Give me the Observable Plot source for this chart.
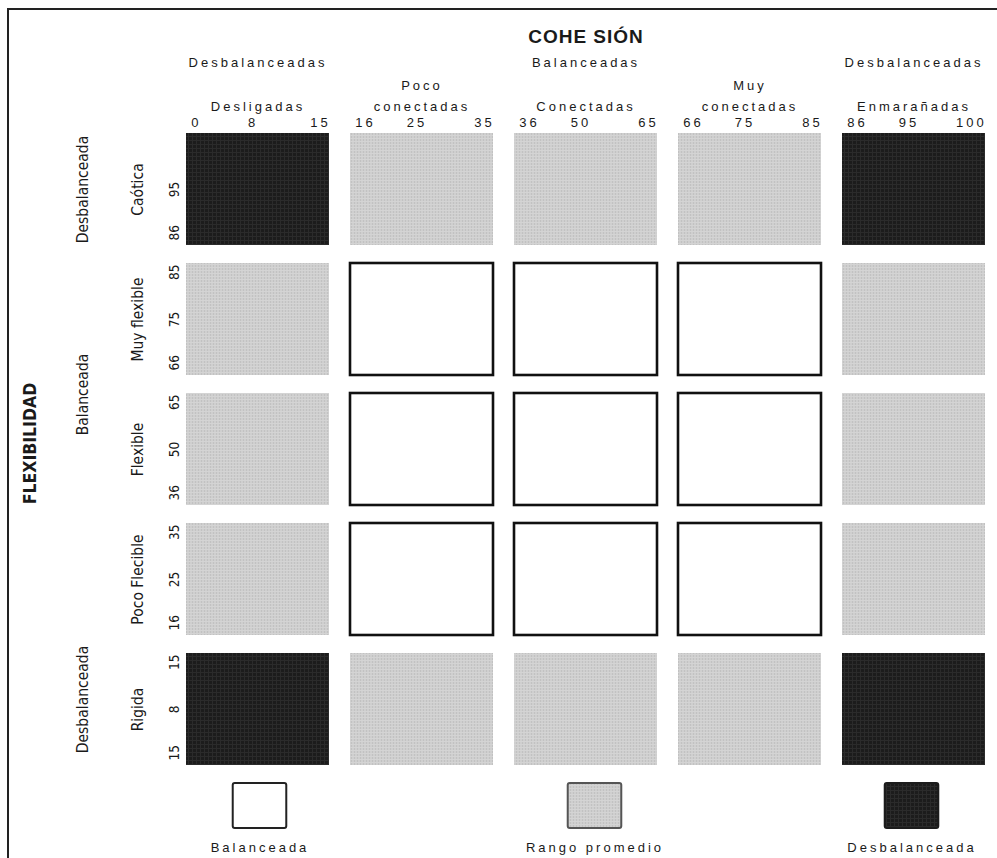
<!DOCTYPE html>
<html><head><meta charset="utf-8">
<script src="https://cdn.jsdelivr.net/npm/d3@7"></script>
<script src="https://cdn.jsdelivr.net/npm/@observablehq/plot@0.6"></script>
<style>
html,body{margin:0;padding:0;background:#fff;}
#wrap{position:relative;width:997px;height:858px;overflow:hidden;background:#fff;}
#wrap svg{display:block;background:transparent;}
#frame{position:absolute;left:7px;top:8px;width:1000px;height:900px;border-top:2px solid #222;border-left:2px solid #222;pointer-events:none;}
g[font-family^="Liberation Sans,"]{letter-spacing:3px;}
g[font-family^="Arial Bold,"]{letter-spacing:1px;}
</style></head>
<body><div id="wrap"><div id="frame"></div></div>
<script>
// ---- data ----
const cohesionLevels = ["Desligadas", "Poco conectadas", "Conectadas", "Muy conectadas", "Enmarañadas"];
const cohesionGroups = [["Desligadas", "Desbalanceadas"], ["Conectadas", "Balanceadas"], ["Enmarañadas", "Desbalanceadas"]];
const cohesionTicks = [["0", "8", "15"], ["16", "25", "35"], ["36", "50", "65"], ["66", "75", "85"], ["86", "95", "100"]];
const flexibilityLevels = ["Caótica", "Muy flexible", "Flexible", "Poco Flecible", "Rigida"];
const flexibilityGroups = [["Caótica", "Desbalanceada"], ["Flexible", "Balanceada"], ["Rigida", "Desbalanceada"]];
const flexibilityTicks = [["", "95", "86"], ["85", "75", "66"], ["65", "50", "36"], ["35", "25", "16"], ["15", "8", "15"]];
const cellTypes = [
  ["unb", "avg", "avg", "avg", "unb"],
  ["avg", "bal", "bal", "bal", "avg"],
  ["avg", "bal", "bal", "bal", "avg"],
  ["avg", "bal", "bal", "bal", "avg"],
  ["unb", "avg", "avg", "avg", "unb"]
];
const legendItems = [["Desligadas", "bal", "Balanceada"], ["Conectadas", "avg", "Rango promedio"], ["Enmarañadas", "unb", "Desbalanceada"]];
const title = "COHE SIÓN";
const sideTitle = "FLEXIBILIDAD";

// ---- styles ----
const fillFor = {bal: "#ffffff", avg: "url(#patGray)", unb: "url(#patBlack)"};
const strokeFor = {bal: "#111111", avg: "none", unb: "none"};
const legendStroke = {bal: "#222222", avg: "#555555", unb: "#1c1c1c"};
const sans = "Liberation Sans, Arial, sans-serif";
const bold = "Arial Bold, Liberation Sans, Arial, sans-serif";
const narrow = "DejaVu Sans Condensed, Liberation Sans Narrow, sans-serif";
const ink = "#1a1a1a";

const ML = 184, MR = 10, MT = 132, H = 770, MB = 4;
const xBand = d3.scaleBand().domain(cohesionLevels).range([ML, 997 - MR]).paddingInner(0.13).paddingOuter(0);
const yBand = d3.scaleBand().domain(flexibilityLevels).range([MT, H - MB]).paddingInner(0.142).paddingOuter(0);
const bw = xBand.bandwidth(), bh = yBand.bandwidth();

const cells = flexibilityLevels.flatMap((f, i) => cohesionLevels.map((c, j) => ({f, c, type: cellTypes[i][j]})));
const colTicks = cohesionLevels.flatMap((c, j) => cohesionTicks[j].map((t, k) => ({c, t, k})));
const rowTicks = flexibilityLevels.flatMap((f, i) => flexibilityTicks[i].map((t, k) => ({f, t, k}))).filter(d => d.t !== "");
const colNames = cohesionLevels.map(c => ({c, label: c.replace(" ", "\n")}));

const xOpts = {domain: cohesionLevels, paddingInner: 0.13, paddingOuter: 0, axis: null};
const yOpts = {domain: flexibilityLevels, paddingInner: 0.142, paddingOuter: 0, axis: null};

const rot = {frameAnchor: "left", rotate: -90, lineAnchor: "middle", fontFamily: narrow, fill: ink};

const main = Plot.plot({
  width: 997, height: H,
  marginLeft: ML, marginRight: MR, marginTop: MT, marginBottom: MB,
  x: xOpts, y: yOpts,
  color: {type: "identity"},
  style: {background: "transparent", color: ink},
  marks: [
    Plot.cell(cells, {x: "c", y: "f", fill: d => fillFor[d.type], stroke: d => strokeFor[d.type], strokeWidth: 2.6, inset: 0}),
    // column headings
    Plot.text(colTicks.filter(d => d.k === 0), {x: "c", text: "t", frameAnchor: "top", dy: -10, dx: -bw / 2 + 5, textAnchor: "start", lineAnchor: "middle", fontSize: 13, fontFamily: sans, fill: ink}),
    Plot.text(colTicks.filter(d => d.k === 1), {x: "c", text: "t", frameAnchor: "top", dy: -10, dx: -5, textAnchor: "middle", lineAnchor: "middle", fontSize: 13, fontFamily: sans, fill: ink}),
    Plot.text(colTicks.filter(d => d.k === 2), {x: "c", text: "t", frameAnchor: "top", dy: -10, dx: bw / 2 + 1, textAnchor: "end", lineAnchor: "middle", fontSize: 13, fontFamily: sans, fill: ink}),
    Plot.text(colNames, {x: "c", text: "label", frameAnchor: "top", dy: -22, textAnchor: "middle", lineAnchor: "bottom", lineHeight: 1.54, fontSize: 13, fontFamily: sans, fill: ink}),
    Plot.text(cohesionGroups, {x: d => d[0], text: d => d[1], frameAnchor: "top", dy: -66, textAnchor: "middle", lineAnchor: "bottom", fontSize: 13, fontFamily: sans, fill: ink}),
    Plot.text([title], {x: () => cohesionLevels[2], text: d => d, frameAnchor: "top", dy: -90, textAnchor: "middle", lineAnchor: "bottom", fontSize: 19, fontWeight: "bold", fontFamily: bold, fill: ink}),
    // row headings (rotated)
    Plot.text(rowTicks.filter(d => d.k === 0), {...rot, y: "f", text: "t", dx: -10, dy: -bh / 2 + 1, textAnchor: "end", fontSize: 13.5}),
    Plot.text(rowTicks.filter(d => d.k === 1), {...rot, y: "f", text: "t", dx: -10, textAnchor: "middle", fontSize: 13.5}),
    Plot.text(rowTicks.filter(d => d.k === 2), {...rot, y: "f", text: "t", dx: -10, dy: bh / 2 - 5, textAnchor: "start", fontSize: 13.5}),
    Plot.text(flexibilityLevels, {...rot, y: d => d, text: d => d, dx: -46, textAnchor: "middle", fontSize: 15.5}),
    Plot.text(flexibilityGroups.filter(d => d[0] === flexibilityLevels[0]), {...rot, y: d => d[0], text: d => d[1], dx: -101, textAnchor: "middle", fontSize: 15.5}),
    Plot.text(flexibilityGroups.filter(d => d[1] === "Balanceada"), {...rot, y: d => d[0], text: d => d[1], dx: -101, dy: -55, textAnchor: "middle", fontSize: 15.5}),
    Plot.text(flexibilityGroups.filter(d => d[0] === flexibilityLevels[4]), {...rot, y: d => d[0], text: d => d[1], dx: -101, dy: -10, textAnchor: "middle", fontSize: 15.5}),
    Plot.text([sideTitle], {...rot, text: d => d, dx: -154, dy: -6, textAnchor: "middle", fontSize: 17.5, fontWeight: "bold"})
  ]
});

const defs = d3.select(main).insert("defs", ":first-child");
defs.html(`
<pattern id="patGray" patternUnits="userSpaceOnUse" width="3" height="3">
  <rect width="3" height="3" fill="#cfcfcf"/>
  <rect width="1" height="3" fill="#c2c2c2"/>
  <rect width="3" height="1" fill="#d4d4d4"/>
</pattern>
<pattern id="patBlack" patternUnits="userSpaceOnUse" width="4" height="4">
  <rect width="4" height="4" fill="#1c1c1c"/>
  <rect width="1" height="4" fill="#2b2b2b"/>
  <rect width="4" height="1" fill="#2b2b2b"/>
</pattern>`);

const inset = (bw - 54) / 2;
const legendMarks = (items, shift) => [
  Plot.cell(items, {x: d => d[0], fill: d => fillFor[d[1]], stroke: d => legendStroke[d[1]], strokeWidth: 2, insetLeft: inset, insetRight: inset, rx: 2, dx: shift}),
  Plot.text(items, {x: d => d[0], text: d => d[2], frameAnchor: "bottom", dy: 23, dx: shift, textAnchor: "middle", lineAnchor: "bottom", fontSize: 13, fontFamily: sans, fill: ink})
];

const legend = Plot.plot({
  width: 997, height: 88,
  marginLeft: ML, marginRight: MR, marginTop: 13, marginBottom: 30,
  x: xOpts,
  color: {type: "identity"},
  style: {background: "transparent"},
  marks: [
    ...legendMarks(legendItems.filter(d => d[1] === "bal"), 2),
    ...legendMarks(legendItems.filter(d => d[1] === "avg"), 9),
    ...legendMarks(legendItems.filter(d => d[1] === "unb"), -2)
  ]
});

const wrap = document.getElementById("wrap");
wrap.insertBefore(legend, wrap.firstChild);
wrap.insertBefore(main, wrap.firstChild);
</script>
</body></html>
